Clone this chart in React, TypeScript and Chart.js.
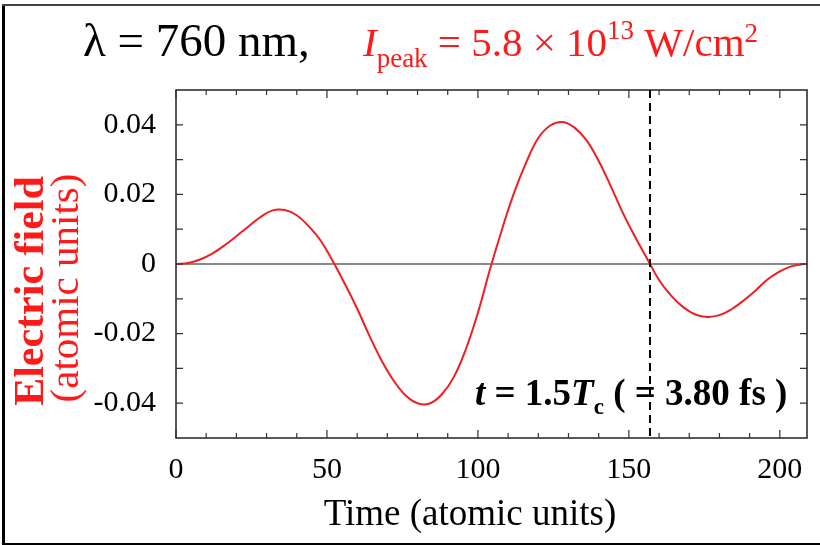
import { useEffect, useRef } from 'react';
import { Chart, registerables } from 'chart.js';
Chart.register(...registerables);

const SERIF = '"Liberation Serif", "Times New Roman", serif';

const timeAU = [
  0, 4, 8, 12, 16, 20, 24, 28, 32, 36, 40, 44, 48, 52,
  56, 60, 64, 68, 72, 76, 80, 84, 88, 92, 96, 100, 104,
  108, 112, 116, 120, 124, 128, 132, 136, 140, 144, 148, 152, 156,
  160, 164, 168, 172, 176, 180, 184, 188, 192, 196, 200, 204, 208, 209,
];
const fieldAU = [
  0, 0.0003, 0.0013, 0.003, 0.0053, 0.008, 0.0108, 0.0135, 0.0154, 0.0155, 0.014, 0.0108, 0.0066, 0.0007,
  -0.0058, -0.0128, -0.0205, -0.0276, -0.0334, -0.0377, -0.04, -0.0401, -0.0375, -0.0325, -0.0245, -0.014, -0.0015,
  0.01, 0.0205, 0.0292, 0.0362, 0.0398, 0.0408, 0.0392, 0.0355, 0.0296, 0.0224, 0.0147, 0.0079, 0.0016,
  -0.0046, -0.0091, -0.0124, -0.0145, -0.0152, -0.0147, -0.013, -0.0105, -0.0076, -0.0044, -0.0021, -0.0006, 0, 0,
];
const xTicks = [0, 50, 100, 150, 200];
const yTicks = [-0.04, -0.02, 0, 0.02, 0.04];
const xRange = [0, 209];
const yRange = [-0.05, 0.05];
const markerTime = 157;

type Run = { t: string; font: string; color: string; dy?: number };

function drawRuns(ctx: CanvasRenderingContext2D, x: number, baseline: number, runs: Run[]) {
  let cx = x;
  for (const r of runs) {
    ctx.font = r.font;
    ctx.fillStyle = r.color;
    ctx.fillText(r.t, cx, baseline + (r.dy || 0));
    cx += ctx.measureText(r.t).width;
  }
  return cx;
}

const decorPlugin = {
  id: 'decor',
  beforeDatasetsDraw(chart: any) {
    const { ctx, chartArea: a, scales } = chart;
    const y0 = scales.y.getPixelForValue(0);
    ctx.save();
    ctx.strokeStyle = '#8a8a8a';
    ctx.lineWidth = 2;
    ctx.beginPath();
    ctx.moveTo(a.left, y0);
    ctx.lineTo(a.right, y0);
    ctx.stroke();
    ctx.restore();
  },
  afterDatasetsDraw(chart: any) {
    const { ctx, chartArea: a, scales } = chart;
    const sx = scales.x;
    const sy = scales.y;
    ctx.save();
    // frame
    ctx.strokeStyle = '#222';
    ctx.lineWidth = 1.5;
    ctx.strokeRect(a.left, a.top, a.right - a.left, a.bottom - a.top);
    // ticks (inward, mirrored)
    ctx.lineWidth = 1.2;
    ctx.strokeStyle = '#333';
    ctx.beginPath();
    for (let v = 0; v <= xRange[1]; v += 10) {
      const px = sx.getPixelForValue(v);
      const len = xTicks.includes(v) ? 8 : 5;
      ctx.moveTo(px, a.bottom);
      ctx.lineTo(px, a.bottom - len);
      ctx.moveTo(px, a.top);
      ctx.lineTo(px, a.top + len);
    }
    for (let i = -4; i <= 4; i++) {
      const py = sy.getPixelForValue(i * 0.01);
      ctx.moveTo(a.left, py);
      ctx.lineTo(a.left + 7, py);
      ctx.moveTo(a.right, py);
      ctx.lineTo(a.right - 7, py);
    }
    ctx.stroke();
    // dashed marker
    const mx = sx.getPixelForValue(markerTime);
    ctx.strokeStyle = '#000';
    ctx.lineWidth = 2;
    ctx.setLineDash([8, 5]);
    ctx.beginPath();
    ctx.moveTo(mx, a.top);
    ctx.lineTo(mx, a.bottom);
    ctx.stroke();
    ctx.setLineDash([]);

    // annotation
    ctx.textAlign = 'left';
    ctx.textBaseline = 'alphabetic';
    const B = `bold 37px ${SERIF}`;
    const BI = `italic bold 37px ${SERIF}`;
    drawRuns(ctx, 475, 405, [
      { t: 't', font: BI, color: '#000' },
      { t: ' = ', font: B, color: '#000' },
      { t: '1.5', font: B, color: '#000' },
      { t: 'T', font: BI, color: '#000' },
      { t: 'c', font: `bold 23px ${SERIF}`, color: '#000', dy: 9 },
      { t: ' ( = 3.80 fs )', font: B, color: '#000' },
    ]);

    // top title
    drawRuns(ctx, 83, 56, [{ t: 'λ = 760 nm,', font: `47px ${SERIF}`, color: '#000' }]);
    const red = '#ff1a1a';
    drawRuns(ctx, 363, 56, [
      { t: 'I', font: `italic 41px ${SERIF}`, color: red },
      { t: 'peak', font: `27px ${SERIF}`, color: red, dy: 11 },
      { t: ' = 5.8 × 10', font: `41px ${SERIF}`, color: red },
      { t: '13', font: `27px ${SERIF}`, color: red, dy: -17 },
      { t: ' W/cm', font: `41px ${SERIF}`, color: red },
      { t: '2', font: `27px ${SERIF}`, color: red, dy: -14 },
    ]);

    // x title
    ctx.textAlign = 'center';
    ctx.fillStyle = '#000';
    ctx.font = `37px ${SERIF}`;
    ctx.fillText('Time (atomic units)', 470, 525);

    // y title (rotated)
    ctx.save();
    ctx.translate(43, 291);
    ctx.rotate(-Math.PI / 2);
    ctx.fillStyle = red;
    ctx.font = `bold 42px ${SERIF}`;
    ctx.fillText('Electric field', 0, 0);
    ctx.restore();
    ctx.save();
    ctx.translate(78, 288);
    ctx.rotate(-Math.PI / 2);
    ctx.fillStyle = red;
    ctx.font = `41px ${SERIF}`;
    ctx.fillText('(atomic units)', 0, 0);
    ctx.restore();

    // outer border
    ctx.fillStyle = '#000';
    ctx.fillRect(2, 4, 3, 541);
    ctx.fillStyle = '#444';
    ctx.fillRect(2, 4, 818, 2);
    ctx.fillStyle = '#000';
    ctx.fillRect(2, 543, 818, 2);
    ctx.restore();
  },
};

export default function App() {
  const ref = useRef<HTMLCanvasElement | null>(null);
  useEffect(() => {
    if (!ref.current) return;
    const chart = new Chart(ref.current, {
      type: 'line',
      data: {
        datasets: [
          {
            data: timeAU.map((t, i) => ({ x: t, y: fieldAU[i] })),
            borderColor: 'rgb(240,30,34)',
            borderWidth: 2,
            pointRadius: 0,
            tension: 0.4,
            fill: false,
          },
        ],
      },
      options: {
        responsive: false,
        animation: false,
        layout: { padding: { left: 0, top: 90, right: 13, bottom: 0 } },
        plugins: { legend: { display: false }, tooltip: { enabled: false }, title: { display: false } },
        scales: {
          x: {
            type: 'linear',
            min: xRange[0],
            max: xRange[1],
            grid: { display: false, drawTicks: false },
            border: { display: false },
            afterBuildTicks: (s: any) => {
              s.ticks = xTicks.map((v) => ({ value: v }));
            },
            afterFit: (s: any) => {
              s.height = 107;
            },
            ticks: {
              autoSkip: false,
              maxRotation: 0,
              padding: 14,
              color: '#000',
              font: { family: SERIF, size: 30 },
              callback: (v: any) => String(v),
            },
          },
          y: {
            type: 'linear',
            min: yRange[0],
            max: yRange[1],
            grid: { display: false, drawTicks: false },
            border: { display: false },
            afterBuildTicks: (s: any) => {
              s.ticks = yTicks.map((v) => ({ value: v }));
            },
            afterFit: (s: any) => {
              s.width = 176;
            },
            ticks: {
              autoSkip: false,
              padding: 20,
              color: '#000',
              font: { family: SERIF, size: 30 },
              callback: (v: any) => (Math.abs(v) < 1e-9 ? '0' : Number(v).toFixed(2)),
            },
          },
        },
      },
      plugins: [decorPlugin],
    } as any);
    return () => chart.destroy();
  }, []);
  return (
    <div style={{ position: 'absolute', left: 0, top: 0, width: 820, height: 545, background: '#fff' }}>
      <canvas ref={ref} width={820} height={545} />
    </div>
  );
}
